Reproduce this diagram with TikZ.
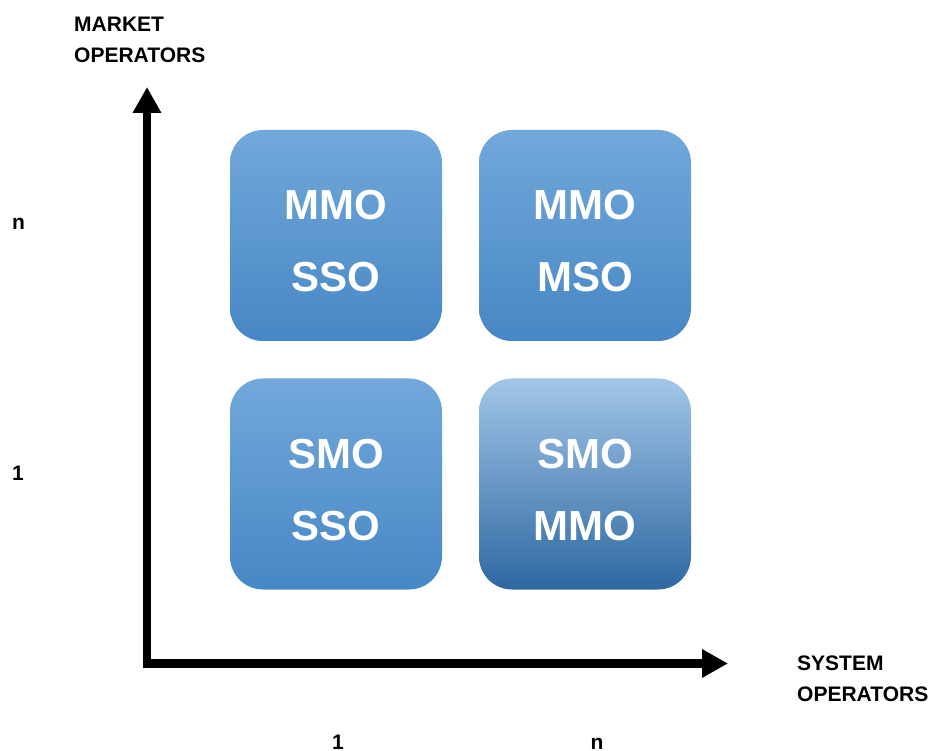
\documentclass[tikz,border=0pt]{standalone}
\usepackage{fontspec}
\setmainfont{Liberation Sans}
\usetikzlibrary{arrows.meta}
\definecolor{boxtop}{HTML}{72A8DA}
\definecolor{boxmid}{HTML}{5A9DDA}
\definecolor{boxbot}{HTML}{4787C5}
\definecolor{darktop}{HTML}{A2C6E8}
\definecolor{darkmid}{HTML}{5E9AD1}
\definecolor{darkbot}{HTML}{2E68A1}
\newcommand{\toppad}{\rule{0pt}{41pt}}
\tikzset{
  quad/.style={rounded corners=33pt, minimum width=212pt, minimum height=211pt,
    inner sep=0pt, align=center, text=white,
    font=\fontsize{42}{72}\selectfont\bfseries,
    top color=boxtop, middle color=boxmid, bottom color=boxbot},
  quaddark/.style={quad, top color=darktop, middle color=darkmid, bottom color=darkbot},
  axis/.style={line width=8.5pt, -{Triangle[width=27pt,length=26pt]}},
  lbl/.style={inner sep=0pt, font=\fontsize{21}{31}\selectfont\bfseries, align=left},
  num/.style={inner sep=0pt, font=\fontsize{21}{31}\selectfont\bfseries}
}
\begin{document}
\begin{tikzpicture}[x=1pt,y=-1pt]
\useasboundingbox (0,0) rectangle (935,751);
\coordinate (yorig) at (147,667.5);
\coordinate (ytip) at (147,87);
\coordinate (xorig) at (143,663.5);
\coordinate (xtip) at (728,663.5);
\draw[axis] (yorig) -- (ytip);
\draw[axis] (xorig) -- (xtip);

\node[quad] (mmosso) at (336,235.5) {\toppad MMO\\SSO};
\node[quad] (mmomso) at (585,235.5) {\toppad MMO\\MSO};
\node[quad] (smosso) at (336,484) {\toppad SMO\\SSO};
\node[quaddark] (smommo) at (585,484) {\toppad SMO\\MMO};

\node[lbl, anchor=north west] (market) at (74,17) {MARKET\\OPERATORS};
\node[lbl, anchor=north west] (system) at (797,656) {SYSTEM\\OPERATORS};
\node[num, anchor=base west] (yn) at (12,230) {n};
\node[num, anchor=base west] (y1) at (12,480) {1};
\node[num, anchor=base] (x1) at (338,749) {1};
\node[num, anchor=base] (xn) at (597,749) {n};
\end{tikzpicture}
\end{document}
